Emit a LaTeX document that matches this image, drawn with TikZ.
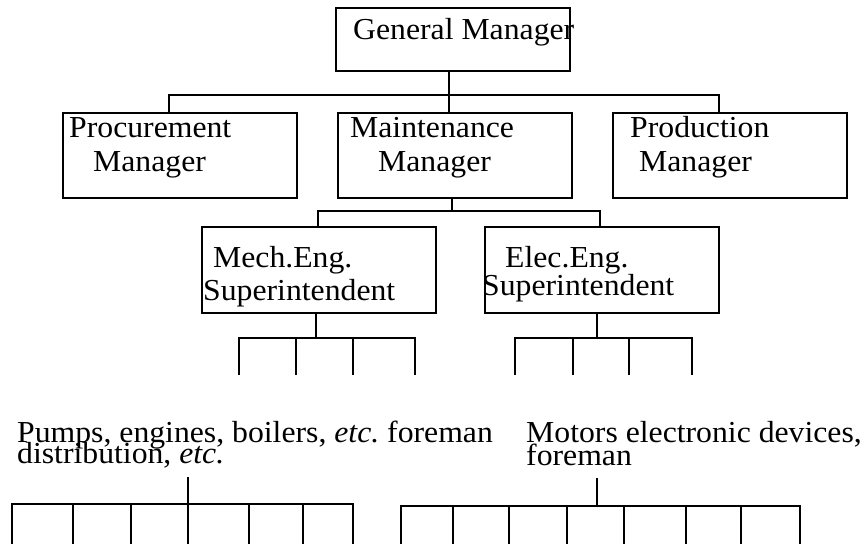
\documentclass[tikz,border=0pt]{standalone}
\usepackage{fontspec}
\setmainfont{Liberation Serif}[FakeStretch=1.04]
\frenchspacing
\begin{document}
\begin{tikzpicture}[x=1pt,y=-1pt,
  box/.style={draw,line width=1.6pt,minimum width=234pt,inner sep=0pt},
  lbl/.style={anchor=base west,inner sep=0pt,font=\fontsize{30.5}{30.5}\selectfont},
  link/.style={line width=1.2pt},
  rake/.style={line width=1.6pt}]
\useasboundingbox (0,0) rectangle (860,544);

% boxes of the chart
\node[box,minimum height=63pt] (gm)    at (453,39.5) {};
\node[box,minimum height=85pt] (proc)  at (180,155.5) {};
\node[box,minimum height=85pt] (maint) at (455,155.5) {};
\node[box,minimum height=85pt] (prod)  at (730,155.5) {};
\node[box,minimum height=86pt] (mech)  at (319,270) {};
\node[box,minimum height=86pt] (elec)  at (602,270) {};

% box texts
\node[lbl] (gmT)    at (353,39)  {General Manager};
\node[lbl] (procT1) at (69,137)  {Procurement};
\node[lbl] (procT2) at (93,171)  {Manager};
\node[lbl] (mainT1) at (350,137) {Maintenance};
\node[lbl] (mainT2) at (378,171) {Manager};
\node[lbl] (prodT1) at (630,137) {Production};
\node[lbl] (prodT2) at (639,171) {Manager};
\node[lbl] (mechT1) at (213,267) {Mech.Eng.};
\node[lbl] (mechT2) at (203,300) {Superintendent};
\node[lbl] (elecT1) at (505,267) {Elec.Eng.};
\node[lbl] (elecT2) at (482,295) {Superintendent};

% foreman groups
\node[lbl] (pumpT1) at (17,442)  {Pumps, engines, boilers, {\itshape etc.} foreman};
\node[lbl] (pumpT2) at (17,463)  {distribution, {\itshape etc.}};
\node[lbl] (motT1)  at (526,442) {Motors electronic devices,};
\node[lbl] (motT2)  at (526,465) {foreman};

% general manager to the three managers
\coordinate (j1) at (449,95);
\draw[link] (gm.south -| j1) -- (j1);
\draw[link] (proc.north -| 169,0) -- (169,95) -- (719,95) -- (prod.north -| 719,0);
\draw[link] (j1) -- (maint.north -| j1);

% maintenance manager to the superintendents
\coordinate (j2) at (452,211);
\draw[link] (maint.south -| j2) -- (j2);
\draw[link] (mech.north -| 318,0) -- (318,211) -- (600,211) -- (elec.north -| 600,0);

% mechanical superintendent branches
\coordinate (j3) at (316,338);
\draw[link] (mech.south -| j3) -- (j3);
\draw[rake] (239,375) -- (239,338) -- (415,338) -- (415,375);
\foreach \x in {296,353} \draw[rake] (\x,338) -- (\x,375);

% electrical superintendent branches
\coordinate (j4) at (597,338);
\draw[link] (elec.south -| j4) -- (j4);
\draw[rake] (515,375) -- (515,338) -- (692,338) -- (692,375);
\foreach \x in {573,629} \draw[rake] (\x,338) -- (\x,375);

% mechanical foreman branches
\coordinate (j5) at (188,477);
\draw[link] (j5) -- (188,504);
\draw[rake] (12,544) -- (12,504) -- (353,504) -- (353,544);
\foreach \x in {73,131,188,249,303} \draw[rake] (\x,504) -- (\x,544);

% electrical foreman branches
\coordinate (j6) at (597,478);
\draw[link] (j6) -- (597,506);
\draw[rake] (401,544) -- (401,506) -- (800,506) -- (800,544);
\foreach \x in {453,509,567,624,686,741} \draw[rake] (\x,506) -- (\x,544);
\end{tikzpicture}
\end{document}
